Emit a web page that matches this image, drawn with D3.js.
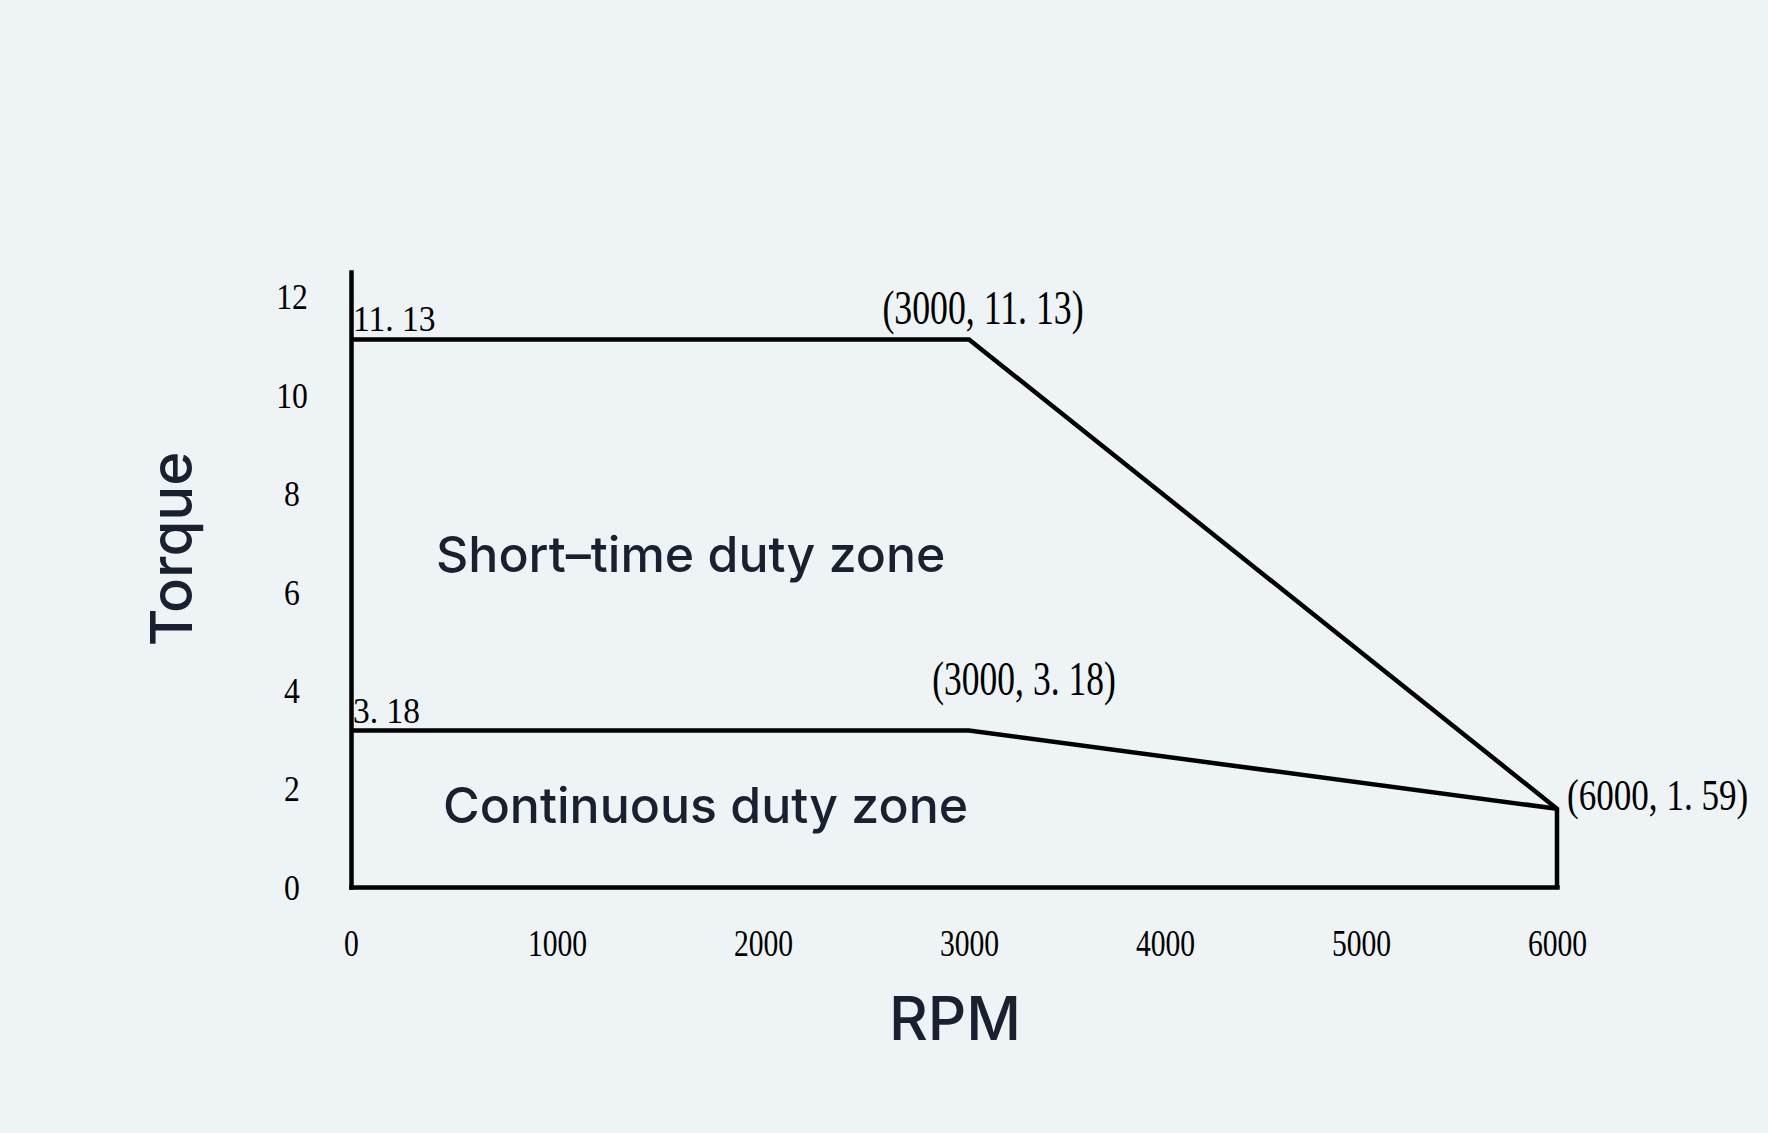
<!DOCTYPE html>
<html>
<head>
<meta charset="utf-8">
<script src="https://cdn.jsdelivr.net/npm/d3@7"></script>
<style>
  html, body { margin: 0; padding: 0; background: #eef3f6; }
  svg { display: block; }
  .serif { font-family: "Liberation Serif", "DejaVu Serif", serif; fill: #000; }
  .sans { font-family: Inter, "Noto Sans", sans-serif; fill: #1b2030; font-weight: 500; }
</style>
</head>
<body>
<svg id="chartSvg" width="1768" height="1133"></svg>
<script>
// data
var rpm = [0, 3000, 6000]
var shortTimeTorque = [11.13, 11.13, 1.59]
var continuousTorque = [3.18, 3.18, 1.59]
var xTicks = [0, 1000, 2000, 3000, 4000, 5000, 6000]
var yTicks = [0, 2, 4, 6, 8, 10, 12]
var zoneNames = ["Short\u2013time duty zone", "Continuous duty zone"]
var zoneMidTorque = [6.5, 1.5]

var svg = d3.select('#chartSvg')
var W = 1768, H = 1133

// the drawing is hand made, 3000 sits a bit right of the middle
var x = d3.scaleLinear().domain([0, 3000, 6000]).range([351, 969, 1557])
var y = d3.scaleLinear().domain([0, 12.5]).range([887, 272])

svg.append('rect').attr('width', W).attr('height', H).attr('fill', '#eef3f6')

function fmt (v) {
    return String(v).replace('.', '. ')
}

// axes (only the lines and labels, no tick marks)
var gx = svg.append('g')
    .attr('transform', `translate(0,${y(0)})`)
    .call(d3.axisBottom(x).tickValues(xTicks).tickSize(0).tickSizeOuter(0).tickFormat(d3.format('d')))
var gy = svg.append('g')
    .attr('transform', `translate(${x(0)},0)`)
    .call(d3.axisLeft(y).tickValues(yTicks).tickSize(0).tickSizeOuter(0).tickFormat(d3.format('d')))

svg.selectAll('.domain')
    .attr('stroke', '#000')
    .attr('stroke-width', 4.5)
    .attr('stroke-linecap', 'square')

gx.selectAll('text')
    .attr('class', 'serif')
    .attr('font-size', 37)
    .attr('dy', null)
    .attr('y', 0)
    .attr('transform', 'translate(0,69) scale(0.8,1)')
gy.selectAll('text')
    .attr('class', 'serif')
    .attr('font-size', 36)
    .attr('text-anchor', 'middle')
    .attr('dy', '0.34em')
    .attr('x', 0)
    .attr('transform', 'translate(-59,0) scale(0.88,1)')

var line = d3.line()
    .x(d => x(d[0]))
    .y(d => y(d[1]))

// short-time boundary, closed down to the rpm axis at 6000
var shortPts = rpm.map((r, i) => [r, shortTimeTorque[i]])
shortPts.push([rpm[rpm.length - 1], 0])
svg.append('path')
    .attr('d', line(shortPts))
    .attr('fill', 'none')
    .attr('stroke', '#000')
    .attr('stroke-width', 4.5)
    .attr('stroke-linejoin', 'miter')

svg.append('path')
    .attr('d', line(rpm.map((r, i) => [r, continuousTorque[i]])))
    .attr('fill', 'none')
    .attr('stroke', '#000')
    .attr('stroke-width', 4.5)

// value at 0 rpm
var startVals = [shortTimeTorque[0], continuousTorque[0]]
startVals.forEach(function (v) {
    svg.append('text')
        .attr('class', 'serif')
        .attr('font-size', 36)
        .attr('transform', `translate(${x(0) + 2},${y(v) - 8}) scale(0.93,1)`)
        .text(fmt(v))
})

// corner coordinates
var cornerLabels = [
    { r: rpm[1], t: shortTimeTorque[1], dx: 14, dy: -15, size: 49, sx: 0.73, anchor: 'middle' },
    { r: rpm[1], t: continuousTorque[1], dx: 55, dy: -36, size: 48, sx: 0.74, anchor: 'middle' },
    { r: rpm[2], t: shortTimeTorque[2], dx: 10, dy: 1, size: 45, sx: 0.78, anchor: 'start' }
]
cornerLabels.forEach(function (c) {
    svg.append('text')
        .attr('class', 'serif')
        .attr('font-size', c.size)
        .attr('text-anchor', c.anchor)
        .attr('transform', `translate(${x(c.r) + c.dx},${y(c.t) + c.dy}) scale(${c.sx},1)`)
        .text(`(${c.r}, ${fmt(c.t)})`)
})

// zone names
svg.append('text')
    .attr('class', 'sans')
    .attr('font-size', 50)
    .attr('x', 436)
    .attr('y', y(zoneMidTorque[0]) + 5)
    .text(zoneNames[0])
svg.append('text')
    .attr('class', 'sans')
    .attr('font-size', 50)
    .attr('x', 443)
    .attr('y', y(zoneMidTorque[1]) + 10)
    .text(zoneNames[1])

// axis titles
svg.append('text')
    .attr('class', 'sans')
    .attr('font-size', 60)
    .attr('text-anchor', 'middle')
    .attr('x', 955)
    .attr('y', 1040)
    .text('RPM')
svg.append('text')
    .attr('class', 'sans')
    .attr('font-size', 58)
    .attr('text-anchor', 'middle')
    .attr('transform', 'translate(192,549) rotate(-90)')
    .text('Torque')
</script>
</body>
</html>
